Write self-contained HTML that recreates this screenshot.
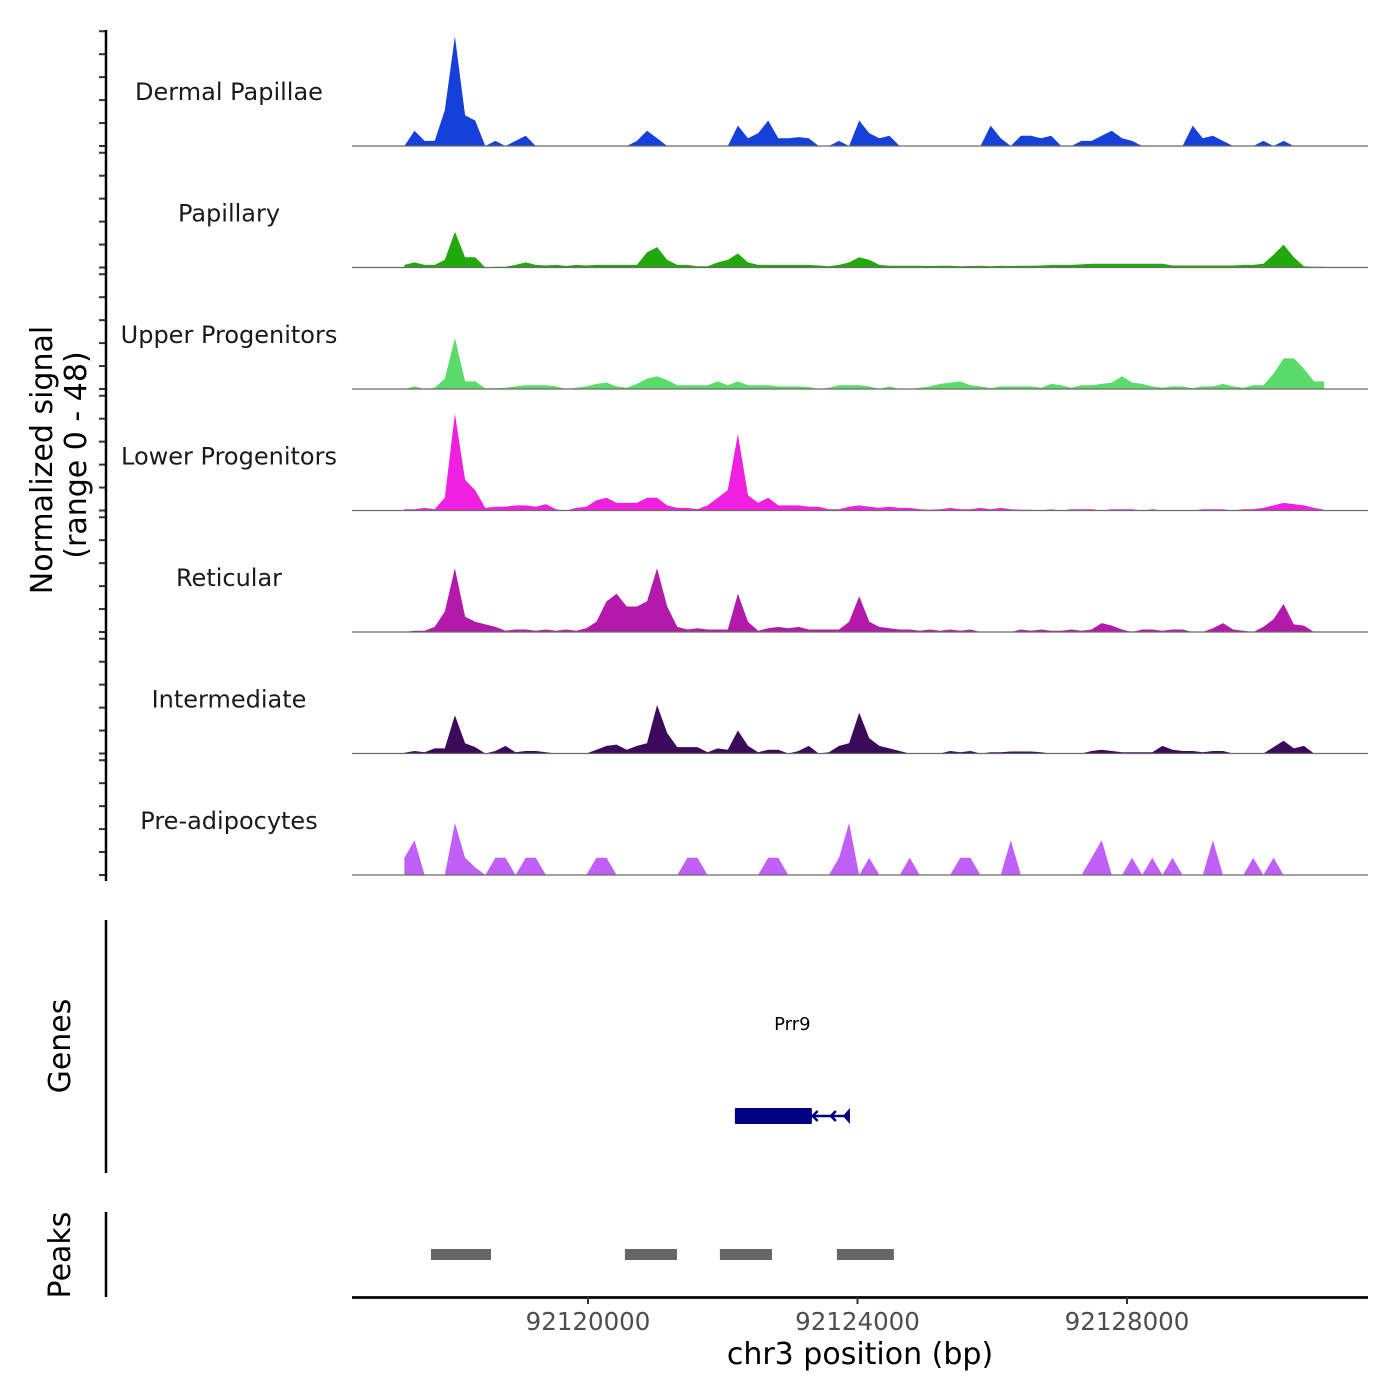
<!DOCTYPE html>
<html><head><meta charset="utf-8">
<style>
html,body{margin:0;padding:0;background:#fff;}
svg{display:block;font-family:"DejaVu Sans","Liberation Sans",sans-serif;}
</style></head>
<body>
<svg id="chart" width="1400" height="1400" viewBox="0 0 1400 1400" xmlns="http://www.w3.org/2000/svg">
<g id="tracks"></g>
<g id="leftaxis"></g>
<text transform="translate(52,460) rotate(-90)" text-anchor="middle" font-size="30" fill="#000">Normalized signal</text>
<text transform="translate(86,455) rotate(-90)" text-anchor="middle" font-size="30" fill="#000">(range 0 - 48)</text>
<line x1="106" y1="920" x2="106" y2="1173" stroke="#000" stroke-width="2.5"/>
<text transform="translate(70,1046) rotate(-90)" text-anchor="middle" font-size="30" fill="#000">Genes</text>
<line x1="106" y1="1212" x2="106" y2="1297" stroke="#000" stroke-width="2.5"/>
<text transform="translate(70,1255) rotate(-90)" text-anchor="middle" font-size="30" fill="#000">Peaks</text>
<g id="genes"></g>
<g id="peaks"></g>
<g id="xaxis"></g>
<text x="860" y="1364" text-anchor="middle" font-size="30" fill="#000">chr3 position (bp)</text>
</svg>
<script>
const NS = "http://www.w3.org/2000/svg";
const binStart = 92117200;
const binSize = 150;
const trackNames = ["Dermal Papillae","Papillary","Upper Progenitors","Lower Progenitors","Reticular","Intermediate","Pre-adipocytes"];
const trackColors = ["#1540DA","#21A80A","#5BDB6A","#F020E0","#B41AAA","#3B0A5A","#C060F8"];
const dermalPapillae = [0,6,2,2,14,43,12,10,0,2, 0,2,4,0,0,0,0,0,0,0, 0,0,0,2,6,3,0,0,0,0, 0,0,0,8,3,5,10,3,3,3.5, 3,0,0,2,0,10,5,3,4,0, 0,0,0,0,0,0,0,0,8,3, 0,4,4,3,4,0,0,2,2,4, 6,3,2,0,0,0,0,0,8,3, 4,2,0,0,0,2,0,2,0,0, 0,0];
const papillary = [1,2,1,1,3,14,4,4,0,0.3, 0.3,1,2,1,0.8,1,0.6,1,0.8,1, 1,1,1,1,6,8,3,1,1,0.5, 0.5,2,3,5.5,2,1,1,1,1,1, 1,0.8,0.5,1,2,4,3,1,0.7,0.7, 0.7,0.7,0.6,0.7,0.7,0.5,0.6,0.7,0.5,0.7, 0.6,0.7,0.7,0.8,1,1,1,1.2,1.5,1.5, 1.5,1.5,1.5,1.5,1.5,1.5,0.8,0.8,0.8,0.8, 0.8,0.8,0.8,1,1,1.5,5,9,4,0.5, 0.3,0.3];
const upperProgenitors = [0,1,0,0.5,4,20,3,3,0.3,0.3, 0.5,1,1.5,1.5,1.5,1,0,0.5,1,2, 2.5,1,0.5,2,4,5,3.5,1.5,1.5,1.5, 1.5,3,1.5,3,1.5,1.5,1.5,1,1,1, 0.8,0,0.5,1.5,1.5,1.5,1,0,1,0, 0,0.5,1,2,2.5,3,1.5,1,0.3,1, 1,1,1,0.5,2,1.5,0.5,1.5,1.5,2, 2.5,5,2.5,2,1,0.5,1,1,0.3,1, 1,2,1,0.5,1.5,1.5,6,12,12,8, 3,3];
const lowerProgenitors = [0.5,0.5,1,0.5,5,38,12,8,1,1.5, 1.5,2,2,1.5,2.5,0.5,0,1,1.5,4, 5,3,3,3,5,5,2,1,1,0.5, 2,5,8,30,6,3,5,2,2,2, 1.5,1.5,0.5,0.5,1.5,2,1.5,1,1.5,1, 1,0.5,0.3,0.5,1,0.5,0.5,1,0.5,1, 0.5,0.3,0.3,0,0.5,0,0.5,0.5,0.5,0, 0.5,0.5,0.5,0,0.5,0,0,0,0,0.5, 0.5,0.5,0,0.5,0.5,1,2,3,2.5,2, 1,0.3];
const reticular = [0,0.5,0.5,2,8,25,6,4,3,2, 0.5,1,1,0.5,1,0.5,1,0.5,1.5,4, 12,15,10,10,12,25,10,2,1,1.5, 1,1,1,15,4,0.5,1.5,2,1.5,2, 1,1,1,1,4,14,4,2,1.5,1, 1,0.5,1,0.5,1,0.5,1,0,0,0, 0,1,0.5,1,0.5,0.5,1,0.5,1,3.5, 2.5,1,0,1,1,0.5,1,1,0,0, 1.5,3.5,1,0.5,0,2,5,11,3,2.5, 0,0];
const intermediate = [0.3,1,0.5,2,2,15,4,2.5,0,1, 3,0.5,1,1,0.5,0,0,0,0,1.5, 3,3.5,1.5,3,4,19,8,2.5,2.5,2.5, 0.5,2,1.5,9,3,0.5,1.5,1.5,0,1, 3,0,0.5,3,4,16,6,3,2,1, 0,0,0,0,1,0.5,1,0,0.5,0.5, 0.8,0.8,0.8,0.5,0,0,0,0,1,1.5, 1,0.5,0.5,0.5,0.5,3,1.5,1,1,0.5, 1,1,0,0,0,0,2.5,5,2,3, 0,0];
const preAdipocytes = [6.8,13.6,0,0,0,20.4,6.8,3,0,6.8, 6.8,0,6.8,6.8,0,0,0,0,0,6.8, 6.8,0,0,0,0,0,0,0,6.8,6.8, 0,0,0,0,0,0,6.8,6.8,0,0, 0,0,0,6.8,20.4,0,6.8,0,0,0, 6.8,0,0,0,0,6.8,6.8,0,0,0, 13.6,0,0,0,0,0,0,0,6.8,13.6, 0,0,6.8,0,6.8,0,6.8,0,0,0, 13.6,0,0,0,6.8,0,6.8,0,0,0, 0,0];
const yTickValues = [0,9,18,27,36,45];
const xTickValues = [92120000,92124000,92128000];
const xTickLabels = ["92120000","92124000","92128000"];
const peakStarts = [92117669,92120548,92121958,92123694];
const peakEnds = [92118560,92121320,92122730,92124540];
const geneName = "Prr9";
const geneStart = 92122180;
const geneCdsEnd = 92123323;
const geneEnd = 92123887;

const trackData = [dermalPapillae,papillary,upperProgenitors,lowerProgenitors,reticular,intermediate,preAdipocytes];
const domain = [92116497, 92131577], range = [352, 1368];
function xScale(bp){ return range[0] + (bp - domain[0]) * (range[1]-range[0]) / (domain[1]-domain[0]); }
const firstBaseline = 146, trackStep = 121.5, unitPx = 2.55;
function baseY(t){ return firstBaseline + t*trackStep; }
function yScale(t, v){ return baseY(t) - v*unitPx; }
function mk(tag, attrs){ const e = document.createElementNS(NS, tag); for (const k in attrs) e.setAttribute(k, attrs[k]); return e; }

const tracksG = document.getElementById("tracks");
const axisG = document.getElementById("leftaxis");
trackData.forEach((vals, t) => {
  const g = mk("g", {});
  
  
  const b = baseY(t);
  let pts = [];
  const x0 = xScale(binStart + 0.5*binSize);
  pts.push(x0.toFixed(1) + "," + b);
  vals.forEach((v, i) => { pts.push(xScale(binStart + (i+0.5)*binSize).toFixed(1) + "," + yScale(t, v).toFixed(1)); });
  pts.push(xScale(binStart + (vals.length-0.5)*binSize).toFixed(1) + "," + b);
  const poly = mk("polygon", {points: pts.join(" "), fill: trackColors[t]});
  
  
  g.appendChild(poly);
  const base = mk("line", {x1:352, x2:1368, y1:b, y2:b, stroke:"#6b6b6b", "stroke-width":1.2});
  
  
  g.appendChild(base);
  const lab = mk("text", {x:229, y:b-46, "text-anchor":"middle", "font-size":24, fill:"#1a1a1a"});
  
  
  lab.textContent = trackNames[t];
  g.appendChild(lab);
  tracksG.appendChild(g);
  yTickValues.forEach(tv => {
    const y = yScale(t, tv);
    const tk = mk("line", {x1:99, x2:106, y1:y, y2:y, stroke:"#333", "stroke-width":2});
    
    
    axisG.appendChild(tk);
  });
});
const yl = mk("line", {x1:106, x2:106, y1:30, y2:881, stroke:"#000", "stroke-width":2.5});


axisG.appendChild(yl);

// genes
const gg = document.getElementById("genes");
const gy = 1116;
const gl = mk("line", {x1:xScale(geneCdsEnd), x2:xScale(geneEnd), y1:gy, y2:gy, stroke:"#000080", "stroke-width":2.5});


gg.appendChild(gl);
const gr = mk("rect", {x:xScale(geneStart), y:gy-8, width:xScale(geneCdsEnd)-xScale(geneStart), height:16, fill:"#000080", rx:1});


gg.appendChild(gr);
[geneCdsEnd + 0.02*(geneEnd-geneCdsEnd), (geneCdsEnd+geneEnd)/2].forEach(p => {
  const x = xScale(p);
  const ch = mk("polyline", {points:`${x+5},${gy-5} ${x},${gy} ${x+5},${gy+5}`, fill:"none", stroke:"#000080", "stroke-width":2.5});
  
  
  gg.appendChild(ch);
});
const ex = xScale(geneEnd);
const endTri = mk("polygon", {points:`${ex},${gy-8} ${ex},${gy+8} ${ex-7},${gy}`, fill:"#000080"});


gg.appendChild(endTri);
const gt = mk("text", {x:(xScale(geneStart)+xScale(geneEnd))/2, y:1030, "text-anchor":"middle", "font-size":18, fill:"#000"});


gt.textContent = geneName;
gg.appendChild(gt);

// peaks
const pg = document.getElementById("peaks");
peakStarts.forEach((s, i) => {
  const r = mk("rect", {x:xScale(s), y:1249, width:xScale(peakEnds[i])-xScale(s), height:11, fill:"#666666"});
  
  
  pg.appendChild(r);
});

// x axis
const xg = document.getElementById("xaxis");
const xl = mk("line", {x1:352, x2:1368, y1:1297.5, y2:1297.5, stroke:"#000", "stroke-width":2.8});


xg.appendChild(xl);
xTickValues.forEach((v, i) => {
  const x = xScale(v);
  const tk = mk("line", {x1:x, x2:x, y1:1297, y2:1304, stroke:"#333", "stroke-width":2});
  
  
  xg.appendChild(tk);
  const tl = mk("text", {x:x, y:1330, "text-anchor":"middle", "font-size":24.5, fill:"#4d4d4d"});
  
  
  tl.textContent = xTickLabels[i];
  xg.appendChild(tl);
});
</script>
</body></html>
